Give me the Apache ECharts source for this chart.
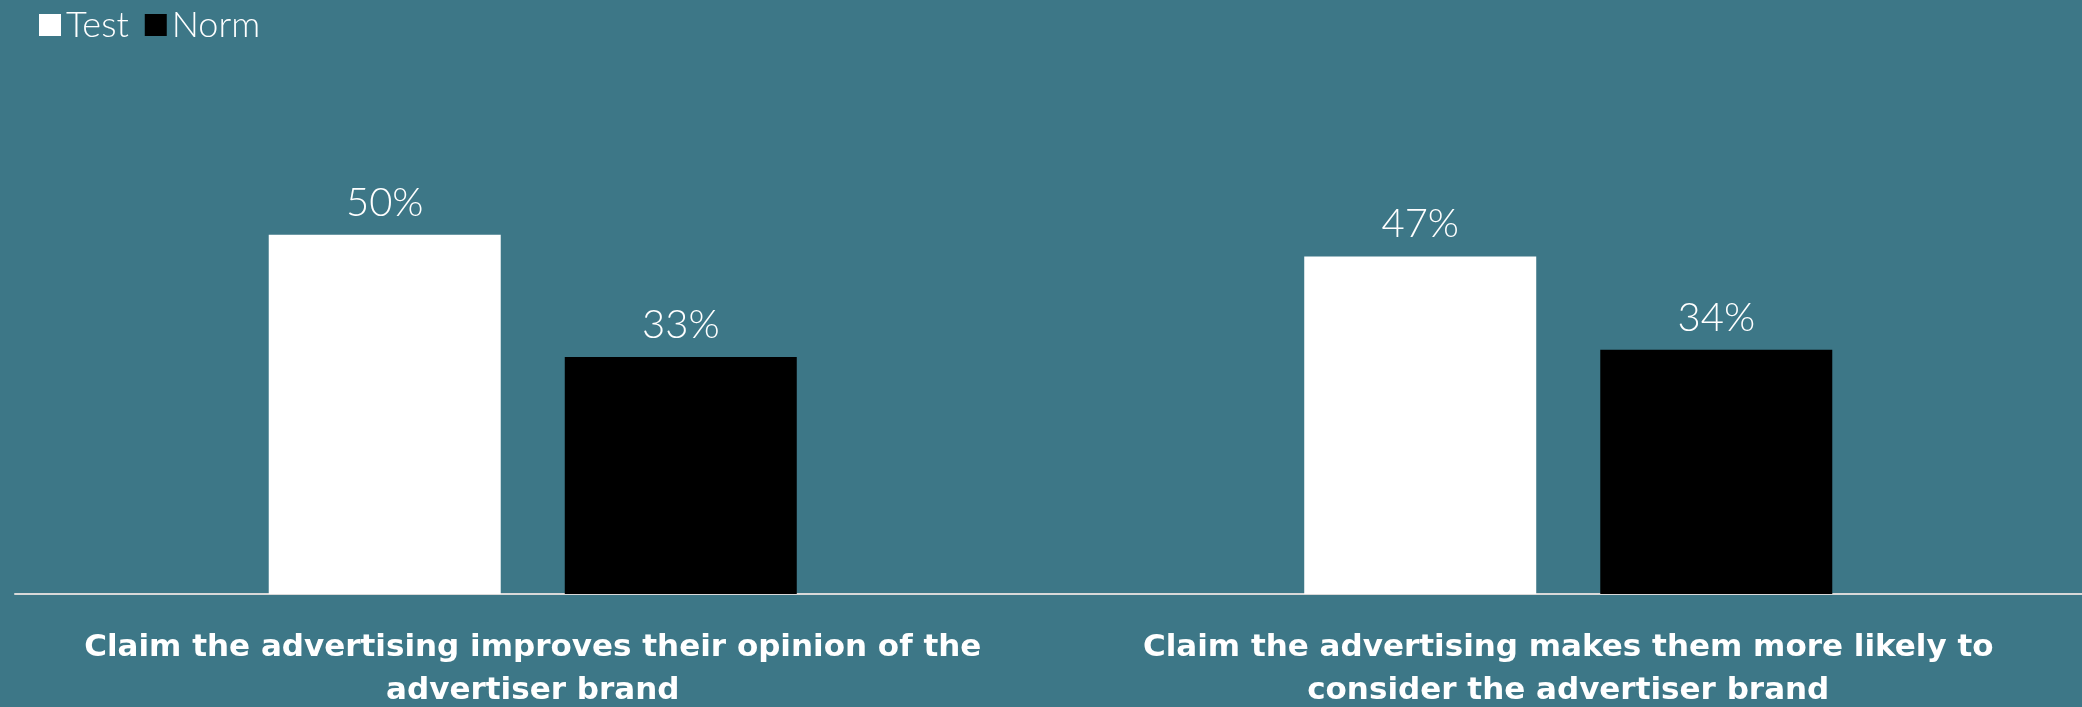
<!DOCTYPE html>
<html>
<head>
<meta charset="utf-8">
<script src="https://cdn.jsdelivr.net/npm/echarts@6/dist/echarts.min.js"></script>
<style>
  html, body { margin: 0; padding: 0; background: #3d7787; }
  #chart { width: 2082px; height: 707px; }
</style>
</head>
<body>
<div id="chart"></div>
<script>
var categories = [
    "Claim the advertising improves their opinion of the\nadvertiser brand",
    "Claim the advertising makes them more likely to\nconsider the advertiser brand"
];
var testValues = [50, 47];
var normValues = [33, 34];

var chart = echarts.init(document.getElementById("chart"));

var labelStyle = {
    show: true,
    position: "top",
    distance: 12,
    color: "#ffffff",
    fontFamily: "Lato",
    fontWeight: 300,
    fontSize: 40,
    formatter: function (p) { return p.value + "%"; }
};

chart.setOption({
    backgroundColor: "#3d7787",
    animation: false,
    legend: {
        left: 34,
        top: 2,
        itemWidth: 22,
        itemHeight: 22,
        itemGap: 16,
        icon: "rect",
        textStyle: { color: "#ffffff", fontFamily: "Lato", fontWeight: 300, fontSize: 36, padding: [0, 0, 0, 0] },
        data: ["Test", "Norm"]
    },
    grid: { left: 15, right: -4, top: 163, bottom: 113, outerBoundsMode: "none" },
    xAxis: {
        type: "category",
        data: categories,
        axisTick: { show: false },
        axisLine: { lineStyle: { color: "#d9d9d9", width: 2 } },
        axisLabel: {
            color: "#ffffff",
            fontFamily: "DejaVu Sans",
            fontWeight: "bold",
            fontSize: 31,
            lineHeight: 43,
            margin: 32,
            interval: 0
        }
    },
    yAxis: {
        type: "value",
        min: 0,
        max: 60,
        show: false,
        splitLine: { show: false }
    },
    series: [
        {
            name: "Test",
            type: "bar",
            data: testValues,
            barWidth: 232,
            barGap: "27.6%",
            itemStyle: { color: "#ffffff" },
            label: labelStyle
        },
        {
            name: "Norm",
            type: "bar",
            data: normValues,
            barWidth: 232,
            itemStyle: { color: "#000000" },
            label: labelStyle
        }
    ]
});
</script>
</body>
</html>
